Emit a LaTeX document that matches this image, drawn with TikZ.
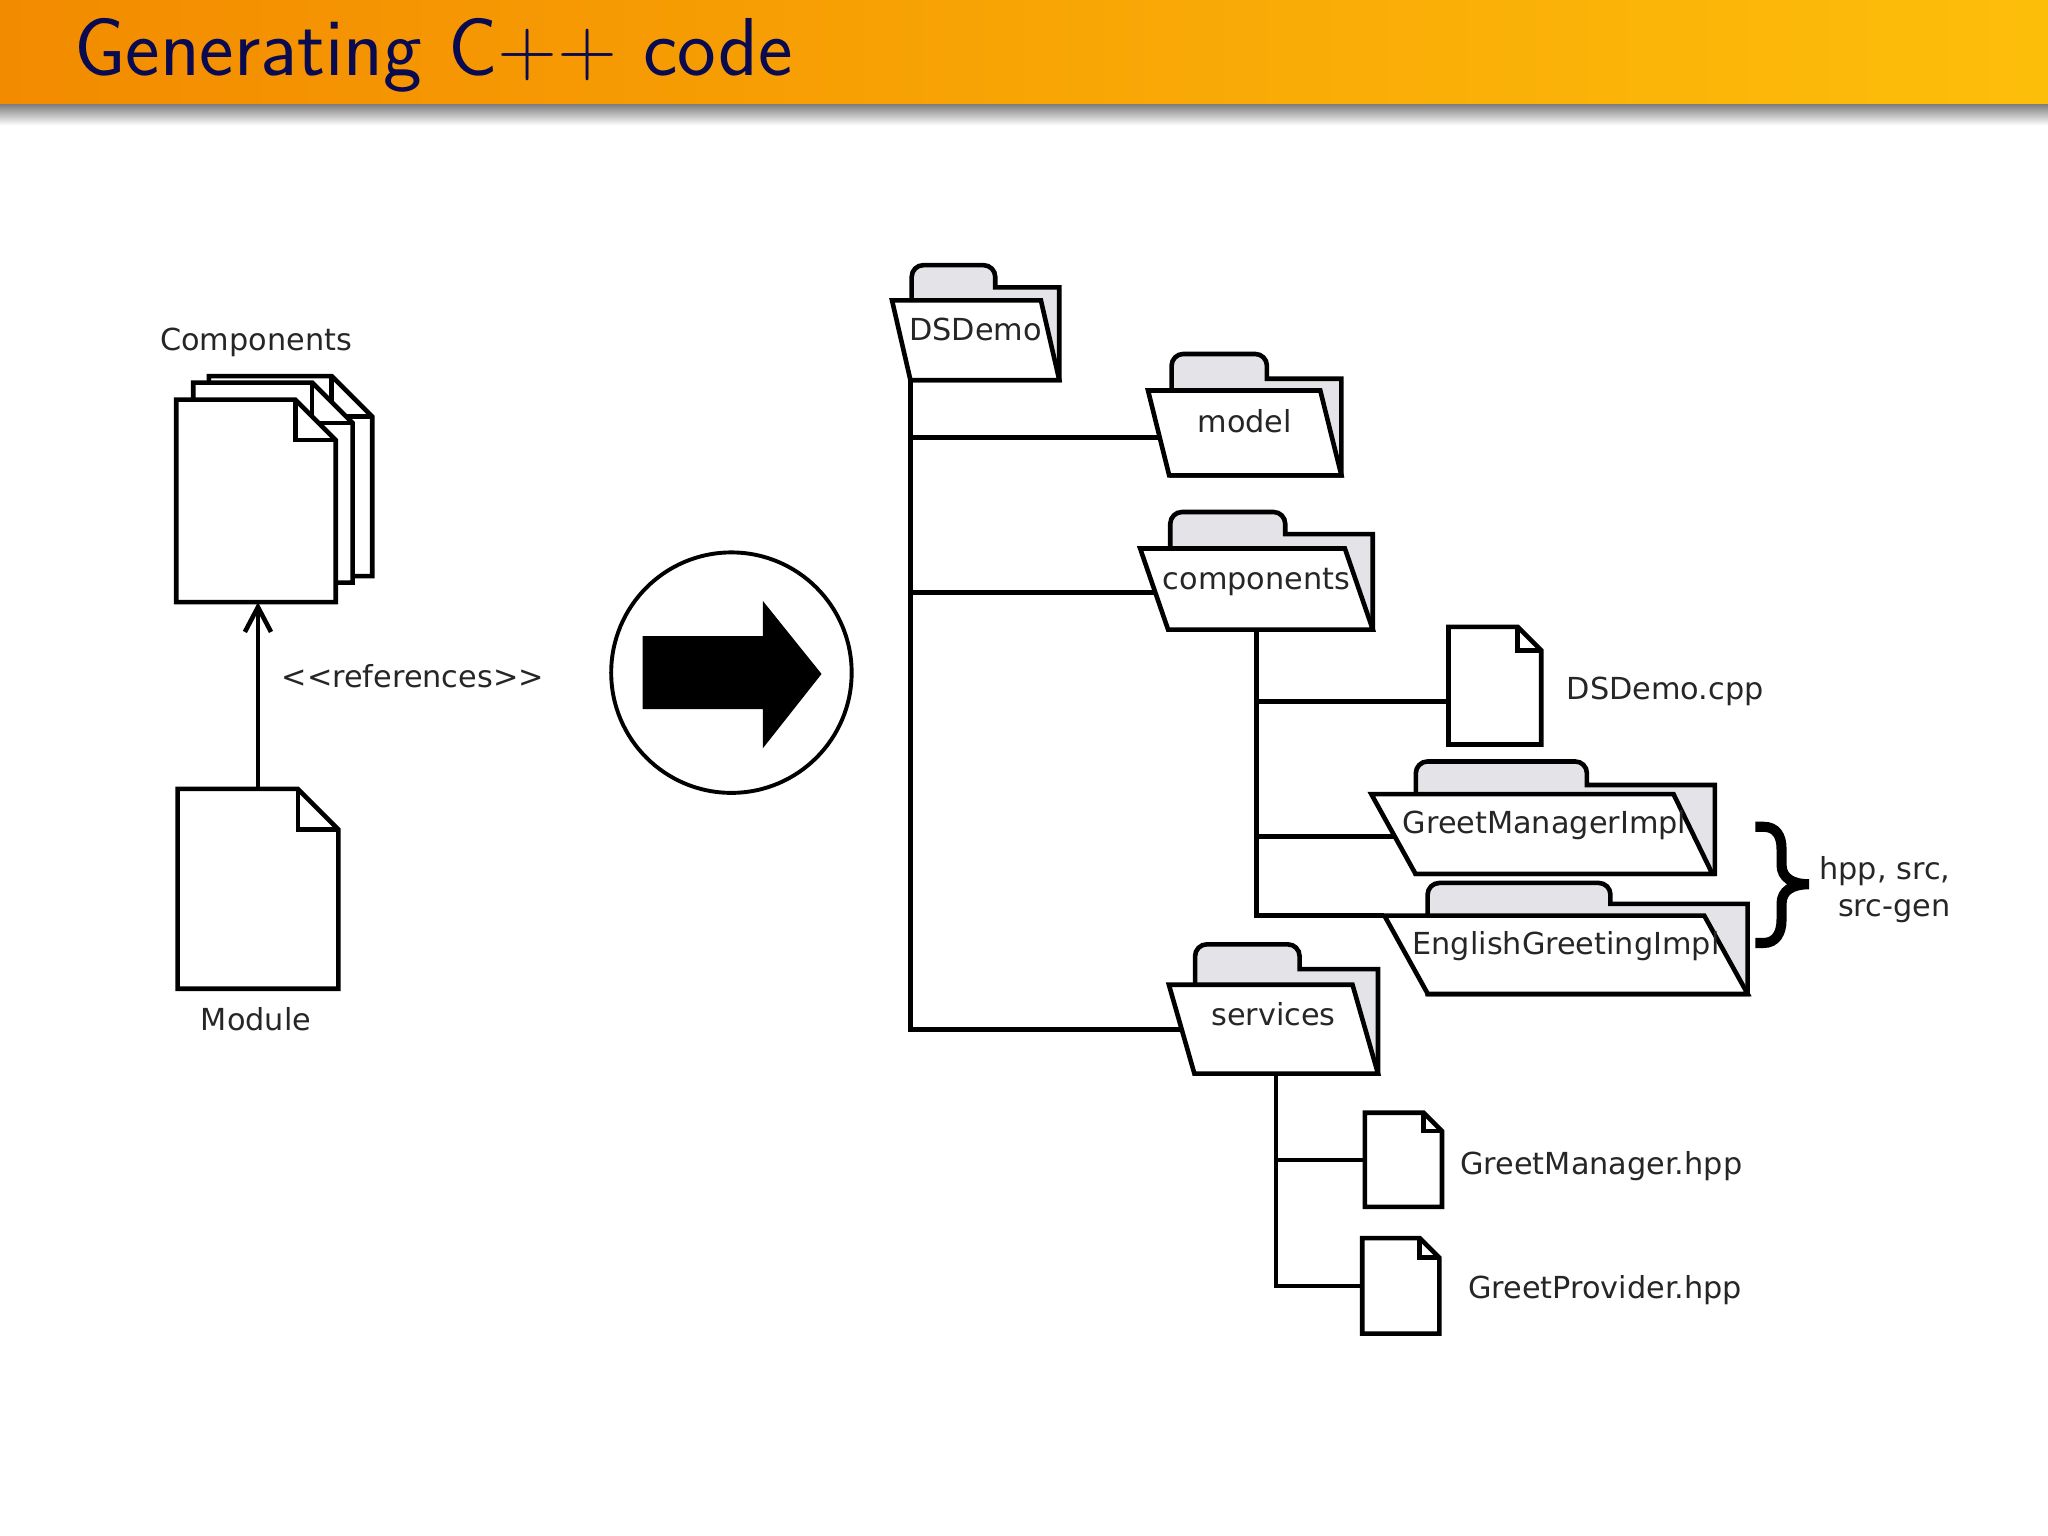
\documentclass[tikz,border=0pt]{standalone}
\usepackage{fontspec}
\setmainfont{DejaVu Sans}
\usetikzlibrary{positioning,shapes.geometric,arrows.meta}

\definecolor{foldergrey}{RGB}{228,228,232}
\definecolor{titlenavy}{RGB}{10,10,80}
\definecolor{barleft}{RGB}{243,139,0}
\definecolor{barright}{RGB}{253,190,10}

\tikzset{
  >={Straight Barb[length=0.19cm,width=0.2cm]},
  lbl/.style={font=\fontsize{6.6}{8.2}\selectfont, text=black!85},
  folder/.style 2 args={trapezium, trapezium stretches body=true, draw, fill=white, inner sep=0pt, outer sep=0pt,
    text height=#1cm, text depth=#2cm, lbl},
  doc/.style 2 args={minimum width=#1cm, minimum height=#2cm, inner sep=0pt, outer sep=0pt},
}

% folder names run over the slanted sides, so they must not widen the shape
\newcommand{\fname}[1]{\makebox[0pt]{#1}}

% tab left, tab right, tab top, back top, right side, bottom
\newcommand{\folderback}[6]{
  \draw[fill=foldergrey] (#1,#6) [rounded corners=0.09cm] -- (#1,#3) -- (#2,#3) [sharp corners] -- (#2,#4)
    -- (#5,#4) -- (#5,#6) -- cycle;
}

% outline of a file on its named node: name, size of the folded corner
\newcommand{\fileshape}[2]{
  \draw[fill=white] (#1.north west) -- ([xshift=-#2cm]#1.north east) -- ([yshift=-#2cm]#1.north east)
    -- (#1.south east) -- (#1.south west) -- cycle;
  \draw ([xshift=-#2cm]#1.north east) -- ([xshift=-#2cm,yshift=-#2cm]#1.north east)
    -- ([yshift=-#2cm]#1.north east);
}

\begin{document}
\begin{tikzpicture}[x=0.01cm, y=-0.01cm, line width=1pt]
\useasboundingbox (0,0) rectangle (1568,1176);

% Title bar
\shade[left color=barleft, right color=barright] (0,0) rectangle (1568,80);
\shade[top color=black!50, bottom color=white, draw=none] (0,80) rectangle (1568,96);
\node (title) [anchor=base west, inner sep=0pt, text=titlenavy, font=\sffamily\fontsize{17.9}{20}\selectfont] at (55,58) {Generating C++ code};

% Left side
\node (back) [doc={1.25}{1.53}] at (222.5,364.5) {};
\fileshape{back}{0.31}
\node (middle) [doc={1.22}{1.53}] at (209,369.5) {};
\fileshape{middle}{0.31}
\node (front) [doc={1.22}{1.55}] at (196,383.5) {};
\fileshape{front}{0.31}
\node (module) [doc={1.23}{1.53}] at (197.5,680.5) {};
\fileshape{module}{0.31}
\node (complabel) [lbl] at (196,262) {Components};
\node (modlabel) [lbl] at (196,780) {Module};
\node (reflabel) [lbl] at (316,518) {{<}{<}references{>}{>}};
\draw[->] (module.north) -- (module.north |- front.south);

% Big arrow
\node (circ) [circle, draw, line width=0.85pt, minimum size=1.84cm, inner sep=0pt] at (560,515) {};
\fill (492,487) -- (584,487) -- (584,460) -- (629,516) -- (584,573) -- (584,543) -- (492,543) -- cycle;

% Folders
\folderback{698}{762}{203}{220}{811}{291}
\node (dsdemo) [folder={0.305}{0.305}, trapezium left angle=103, trapezium right angle=77, minimum width=1.28cm] at (747,260.5) {\fname{DSDemo}};
\folderback{897}{970}{271}{290}{1027}{364}
\node (model) [folder={0.325}{0.325}, trapezium left angle=104, trapezium right angle=76, minimum width=1.48cm] at (953,331.5) {\fname{model}};
\folderback{896}{984}{392}{409}{1051}{482}
\node (components) [folder={0.31}{0.31}, trapezium left angle=109, trapezium right angle=71, minimum width=1.78cm] at (962,451) {\fname{components}};
\folderback{1084}{1215}{583}{601}{1313}{669}
\node (greetimpl) [folder={0.305}{0.305}, trapezium left angle=119, trapezium right angle=64, minimum width=2.61cm] at (1182.5,638.5) {\fname{GreetManagerImpl}};
\folderback{1093}{1233}{676}{692}{1338}{761}
\node (englishimpl) [folder={0.30}{0.30}, trapezium left angle=119, trapezium right angle=61, minimum width=2.78cm] at (1199,731) {\fname{EnglishGreetingImpl}};
\folderback{915}{995}{723}{742}{1055}{822}
\node (services) [folder={0.31}{0.37}, trapezium left angle=106, trapezium right angle=74, minimum width=1.60cm] at (975,788) {\fname{services}};

% Files
\node (dsdemocpp) [doc={0.71}{0.90}] at (1144.5,525) {};
\fileshape{dsdemocpp}{0.18}
\node (greetmgr) [doc={0.59}{0.72}] at (1074.5,888) {};
\fileshape{greetmgr}{0.14}
\node (greetprov) [doc={0.59}{0.73}] at (1072.5,984.5) {};
\fileshape{greetprov}{0.15}
\node (cpplabel) [lbl] at (1275,529) {DSDemo.cpp};
\node (mgrlabel) [lbl] at (1226,893) {GreetManager.hpp};
\node (provlabel) [lbl] at (1229,988) {GreetProvider.hpp};

% Tree lines
\draw (dsdemo.bottom left corner) |- (model.183);
\draw (dsdemo.bottom left corner) |- (components.182);
\draw (dsdemo.bottom left corner) |- (services);
\draw (components.south) |- (dsdemocpp.199);
\draw (components.south) |- (greetimpl.181);
\draw (components.south) |- (englishimpl.top left corner);
\draw (services.273) |- (greetmgr.west);
\draw (services.273) |- (greetprov.west);

% Brace
\draw[line width=2.2pt] (1344,633) -- (1350,633) .. controls (1360,633) and (1364,640) .. (1364,650)
    -- (1364,662) .. controls (1364,672) and (1372,677) .. (1385,677)
    .. controls (1372,677) and (1364,682) .. (1364,692) -- (1364,704)
    .. controls (1364,714) and (1360,722) .. (1350,722) -- (1344,722);
\node (genlabel) [lbl, align=right, anchor=east, inner sep=0pt] at (1495,681) {hpp, src,\\src-gen};

\end{tikzpicture}
\end{document}
